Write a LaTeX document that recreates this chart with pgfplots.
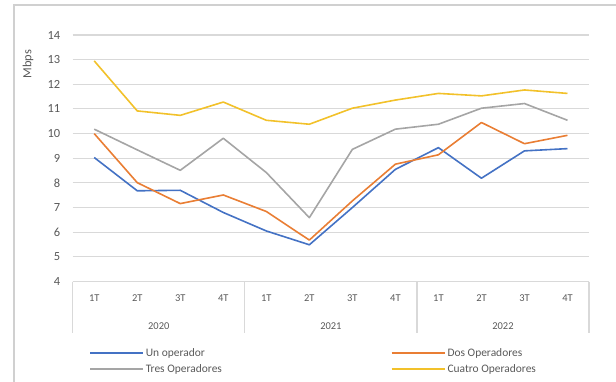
\documentclass[border=0pt]{standalone}
\usepackage{pgfplots}
\pgfplotsset{compat=1.18}
\usepackage{pgfplotstable}
\usepackage{fontspec}
\setmainfont{Carlito}

\definecolor{txt}{HTML}{595959}
\definecolor{gridc}{HTML}{D9D9D9}
\definecolor{frame}{HTML}{D0D0D0}
\definecolor{cBlue}{HTML}{4472C4}
\definecolor{cOrange}{HTML}{E97E34}
\definecolor{cGray}{HTML}{A5A5A5}
\definecolor{cGold}{HTML}{F2C12A}

% Mbps per quarter, 2020-2022
\pgfplotstableread{
q uno dos tres cuatro
0  9.03 10.00 10.18 12.95
1  7.68  8.01  9.34 10.92
2  7.70  7.16  8.51 10.74
3  6.80  7.51  9.81 11.28
4  6.05  6.84  8.42 10.54
5  5.49  5.68  6.59 10.38
6  7.00  7.27  9.36 11.03
7  8.55  8.76 10.18 11.36
8  9.43  9.14 10.38 11.63
9  8.19 10.45 11.03 11.53
10 9.30  9.59 11.22 11.77
11 9.39  9.93 10.54 11.63
}\datatable

\begin{document}
\begin{tikzpicture}[x=1bp,y=1bp]
\useasboundingbox (0,0) rectangle (616,381);
\clip (0,0) rectangle (616,381);
% chart frame
\draw[frame, line width=1.2bp] (14,376) rectangle (640,-10);

\begin{axis}[
  at={(72.7bp,99.5bp)}, anchor=south west,
  scale only axis, width=516.3bp, height=246.5bp,
  xmin=-0.5, xmax=11.5, ymin=4, ymax=14,
  ytick={4,5,...,14},
  xtick={0,...,11},
  xticklabels={1T,2T,3T,4T,1T,2T,3T,4T,1T,2T,3T,4T},
  /pgf/number format/assume math mode=true,
  axis line style={draw=none},
  major tick length=0pt,
  ymajorgrids, grid style={gridc, line width=1.1bp},
  font=\fontsize{12.5}{15}\selectfont,
  tick label style={txt, font=\fontsize{12.5}{15}\selectfont},
  yticklabel style={xshift=-9bp},
  xticklabel style={anchor=center, yshift=-16.5bp, font=\fontsize{10.5}{12}\selectfont},
  clip=false,
  legend columns=2,
  legend cell align=left,
  legend style={draw=none, fill=none, inner sep=0pt,
    at={(axis description cs:0.0316,-0.262)}, anchor=north west,
    font=\fontsize{11.5}{13}\selectfont, text=txt,
    /tikz/every even column/.append style={column sep=167bp},
    row sep=2.5bp},
  legend image code/.code={\draw[#1] (0bp,0bp) -- (53bp,0bp);},
  every axis plot/.append style={line width=1.6bp, line join=round},
]
\addplot[cBlue] table[x=q, y=uno] {\datatable};
\addlegendentry{Un operador}
\addplot[cOrange] table[x=q, y=dos] {\datatable};
\addlegendentry{Dos Operadores}
\addplot[cGray] table[x=q, y=tres] {\datatable};
\addlegendentry{Tres Operadores}
\addplot[cGold] table[x=q, y=cuatro] {\datatable};
\addlegendentry{Cuatro Operadores}

% category axis box
\draw[gridc, line width=1.2bp] (axis cs:-0.5,4) -- (axis cs:11.5,4);
\pgfplotsinvokeforeach{-0.5,3.5,7.5,11.5}{
  \draw[gridc, line width=1.2bp] (axis cs:#1,4) -- ([yshift=-51.5bp]axis cs:#1,4);
}
\node[txt, font=\fontsize{10.5}{12}\selectfont] at ([yshift=-44.5bp]axis cs:1.5,4) {2020};
\node[txt, font=\fontsize{10.5}{12}\selectfont] at ([yshift=-44.5bp]axis cs:5.5,4) {2021};
\node[txt, font=\fontsize{10.5}{12}\selectfont] at ([yshift=-44.5bp]axis cs:9.5,4) {2022};
\end{axis}

\node[txt, rotate=90, font=\fontsize{12.5}{15}\selectfont] at (28,317) {Mbps};
\end{tikzpicture}
\end{document}
